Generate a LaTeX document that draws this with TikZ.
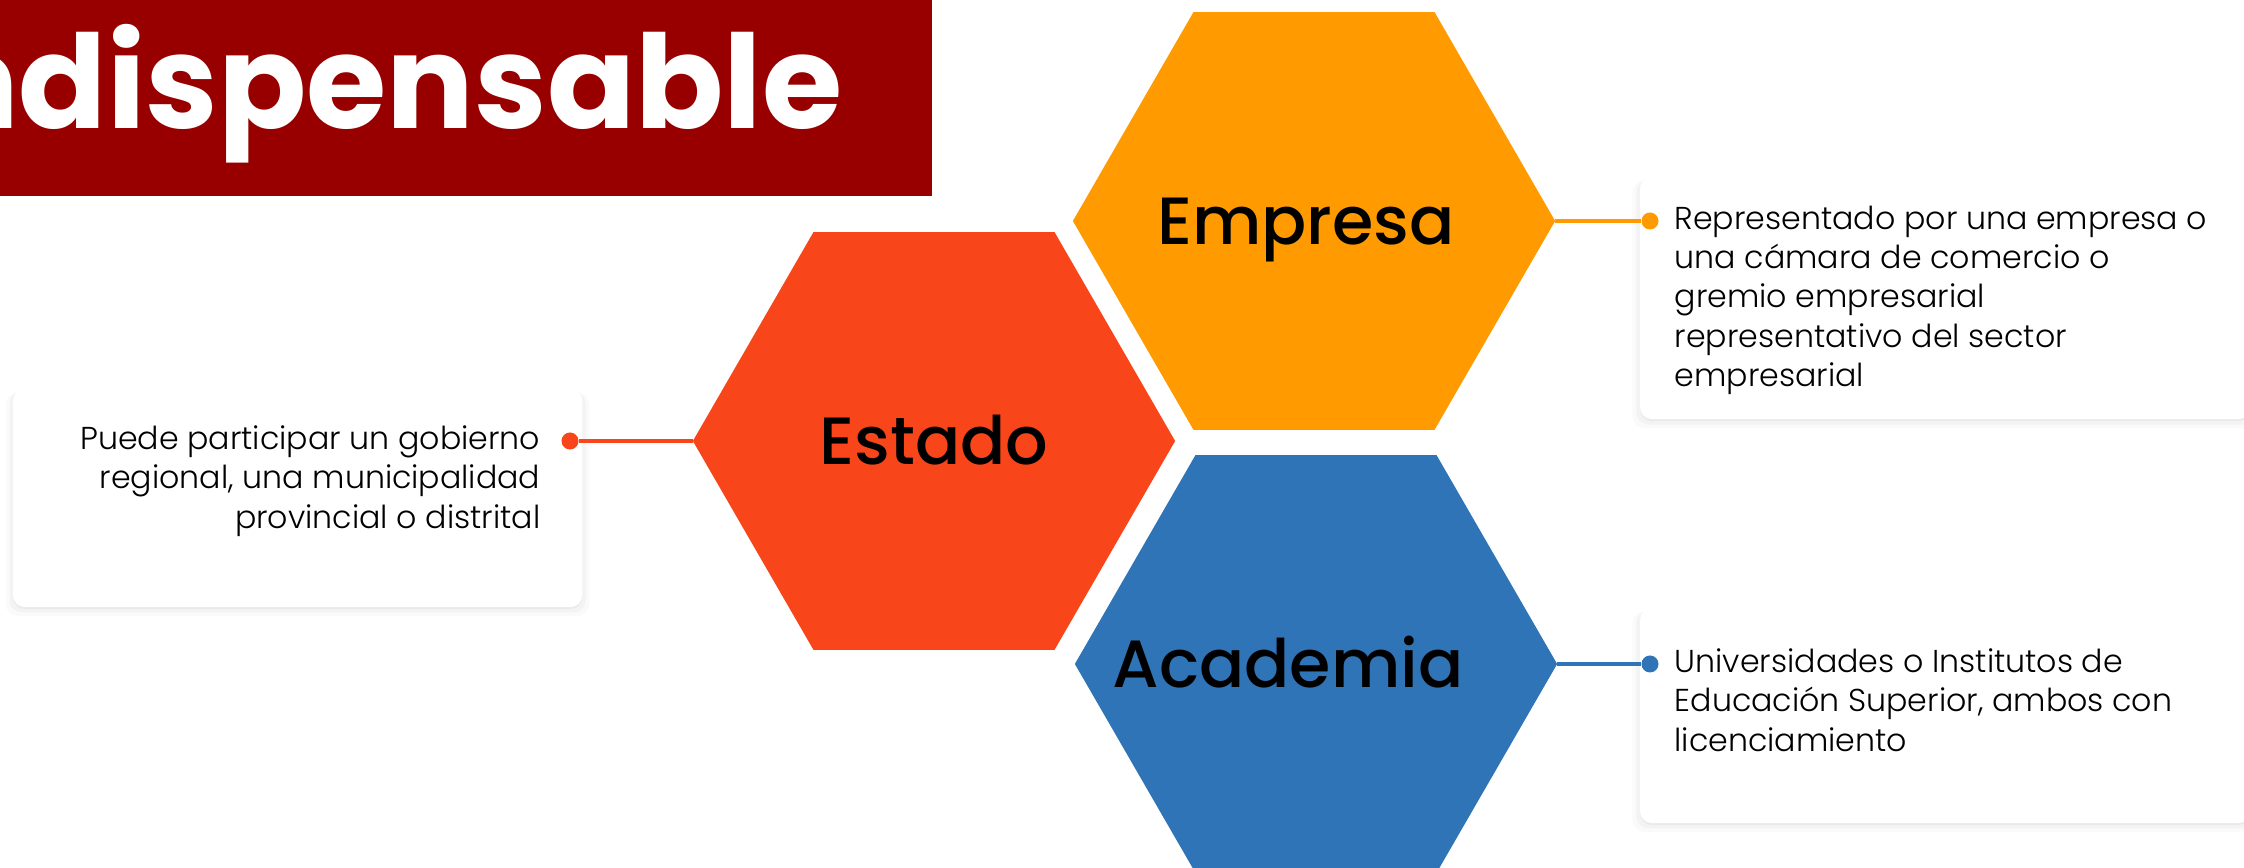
\documentclass[tikz,border=0pt]{standalone}
\usepackage{fontspec}
\setmainfont{Poppins}
\IfFontExistsTF{Poppins Light}{\newfontfamily\bodyfont{Poppins Light}}{\newcommand\bodyfont{\normalfont}}
\IfFontExistsTF{Poppins Medium}{\newfontfamily\hexfont{Poppins Medium}}{\newcommand\hexfont{\bfseries}}
\usetikzlibrary{shapes.geometric,shadows,positioning}

\definecolor{titlered}{HTML}{980000}
\definecolor{empresaorange}{HTML}{FF9B00}
\definecolor{estadored}{HTML}{F84519}
\definecolor{academiablue}{HTML}{2F74B6}

\tikzset{
  hexa/.style={regular polygon,regular polygon sides=6,minimum size=4.82cm,
    inner sep=0pt,outer sep=0pt,draw=none},
  hexlabel/.style={font=\hexfont\fontsize{19}{22}\selectfont,text height=13.3pt,
    text depth=0pt,inner sep=0pt},
  descbox/.style={rectangle,rounded corners=0.12cm,fill=white,inner sep=0pt,
    outer sep=0pt,
    drop shadow={shadow xshift=0cm,shadow yshift=-0.06cm,opacity=0.04,shadow scale=1.025},
    drop shadow={shadow xshift=0cm,shadow yshift=-0.04cm,opacity=0.06,shadow scale=1.012},
    drop shadow={shadow xshift=0cm,shadow yshift=-0.02cm,opacity=0.08,shadow scale=1.0}},
  desctext/.style={font=\bodyfont\fontsize{9}{11.2}\selectfont,inner sep=0pt},
  linkdot/.style={circle,fill=#1,minimum size=0.17cm,inner sep=0pt},
  link/.style={draw=#1,line width=1.15pt}
}

\begin{document}
\begin{tikzpicture}[x=0.01cm,y=-0.01cm]
  \useasboundingbox (0,0) rectangle (2244,868);
  \clip (0,0) rectangle (2244,868);

  % title
  \fill[titlered] (-10,-10) rectangle (932,196);
  \node (title) [anchor=base east,inner sep=0pt,text=white,
    font=\bfseries\fontsize{37}{40}\selectfont] at (843,129) {Indispensable};

  % hexagons
  \node[hexa,fill=empresaorange] (empresa) at (1314,221) {};
  \node[hexa,fill=estadored] (estado) at (934,441) {};
  \node[hexa,fill=academiablue] (academia) at (1316,664) {};

  \node[hexlabel] (empresalbl) at ([xshift=-0.08cm]empresa.center) {Empresa};
  \node[hexlabel] (estadolbl) at (estado.center) {Estado};
  \node[hexlabel] (academialbl) at ([xshift=-0.28cm]academia.center) {Academia};

  % boxes
  \node[descbox,minimum width=5.69cm,minimum height=2.18cm,anchor=north west]
    (estadobox) at (13,389) {};
  \node[descbox,minimum width=6.1cm,minimum height=2.42cm,anchor=north west]
    (empresabox) at (1640,177) {};
  \node[descbox,minimum width=6.1cm,minimum height=2.15cm,anchor=north west]
    (academiabox) at (1640,608) {};

  % dots and links
  \node[linkdot=estadored] (estadodot) at (570,441) {};
  \node[linkdot=empresaorange] (empresadot) at (1650,221) {};
  \node[linkdot=academiablue] (academiadot) at (1650,664) {};

  \draw[link=estadored] (estado.west) -- (estadodot);
  \draw[link=empresaorange] (empresa.east) -- (empresadot);
  \draw[link=academiablue] (academia.east) -- (academiadot);

  % texts
  \node[desctext,align=right,anchor=north east] (estadotxt)
    at ([xshift=-0.29cm,yshift=0.16cm]estadodot.center)
    {Puede participar un gobierno\\regional, una municipalidad\\provincial o distrital};
  \node[desctext,align=left,anchor=north west] (empresatxt)
    at ([xshift=0.24cm,yshift=0.16cm]empresadot.center)
    {Representado por una empresa o\\una cámara de comercio o\\gremio empresarial\\representativo del sector\\empresarial};
  \node[desctext,align=left,anchor=north west] (academiatxt)
    at ([xshift=0.24cm,yshift=0.16cm]academiadot.center)
    {Universidades o Institutos de\\Educación Superior, ambos con\\licenciamiento};

\end{tikzpicture}
\end{document}
